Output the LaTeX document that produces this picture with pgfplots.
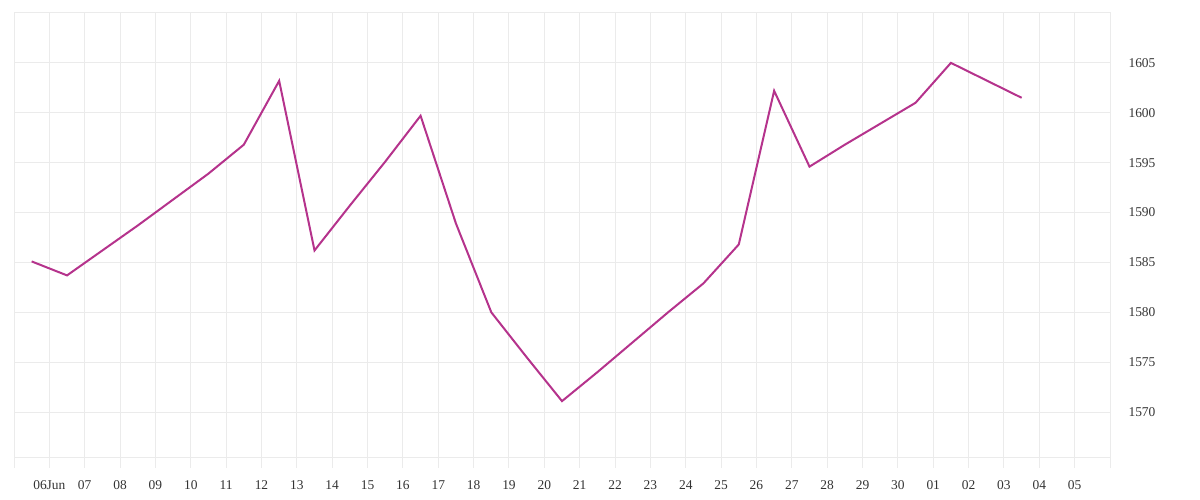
\documentclass[border=0pt]{standalone}
\usepackage{pgfplots}
\pgfplotsset{compat=1.18}
\usepackage{fontspec}
\setmainfont{Liberation Serif}
\definecolor{gridc}{HTML}{EBEBEB}
\definecolor{linec}{HTML}{B5338C}
\begin{document}
\begin{tikzpicture}[x=1bp,y=1bp]
\path[use as bounding box] (0,0) rectangle (1200,500);
\begin{axis}[
  at={(14bp,42bp)}, anchor=south west,
  scale only axis, width=1096bp, height=445bp,
  xmin=-1, xmax=30, ymin=1565.4, ymax=1610,
  xtick={-1,0,...,30},
  xticklabels={,06Jun,07,08,09,10,11,12,13,14,15,16,17,18,19,20,21,22,23,24,25,26,27,28,29,30,01,02,03,04,05,},
  ytick={1570,1575,...,1605},
  yticklabel pos=right,
  xtick pos=bottom,
  /pgf/number format/1000 sep={},
  /pgf/number format/assume math mode=true,
  grid=major,
  grid style={gridc, line width=1bp},
  axis line style={gridc, line width=1bp},
  tick align=outside,
  xtick style={gridc, line width=1bp},
  major tick length=10bp,
  ytick style={draw=none},
  ticklabel style={font=\fontsize{13.5}{15}\selectfont, text=black!80},
  xticklabel style={yshift=-9bp},
  yticklabel style={anchor=west, xshift=5bp},
  clip=false,
]
\addplot[linec, line width=2bp, line join=miter] coordinates {
(-0.5,1585.1) (0.5,1583.7) (1.5,1586.2) (2.5,1588.7) (3.5,1591.3) (4.5,1593.9)
(5.5,1596.8) (6.5,1603.2) (7.5,1586.2) (8.5,1590.7) (9.5,1595.1) (10.5,1599.7)
(11.5,1588.9) (12.5,1580.0) (13.5,1575.5) (14.5,1571.1) (15.5,1574.0) (16.5,1577.0)
(17.5,1580.0) (18.5,1582.9) (19.5,1586.8) (20.5,1602.2) (21.5,1594.6) (22.5,1596.8)
(23.5,1598.9) (24.5,1601.0) (25.5,1605.0) (26.5,1603.25) (27.5,1601.5)
};
\end{axis}
\end{tikzpicture}
\end{document}
